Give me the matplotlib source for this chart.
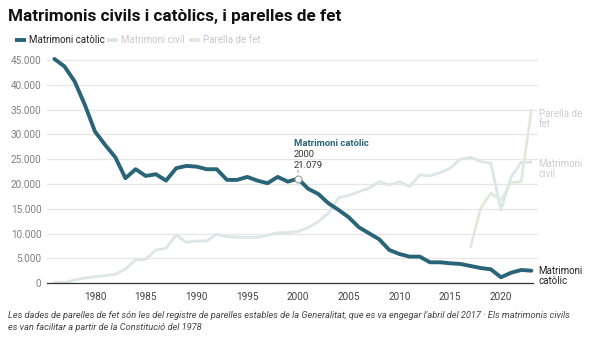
import matplotlib
matplotlib.use("Agg")
import matplotlib.pyplot as plt
from matplotlib.lines import Line2D
from matplotlib.ticker import FuncFormatter

years = list(range(1976, 2024))
catolic = [45200, 43670, 40650, 35950, 30570, 27880, 25400, 21170, 22980, 21630,
           21970, 20690, 23190, 23650, 23510, 22980, 22980, 20830, 20830, 21430,
           20690, 20160, 21430, 20490, 21079, 19050, 18000, 16130, 14780, 13300,
           11290, 10080, 8870, 6710, 5900, 5370, 5370, 4230, 4230, 4030,
           3900, 3490, 3080, 2820, 1210, 2140, 2680, 2540]
civil = [200, 100, 670, 1070, 1340, 1540, 1810, 2880, 4700, 4840,
         6710, 7060, 9740, 8260, 8530, 8530, 9880, 9400, 9270, 9270,
         9270, 9680, 10200, 10200, 10450, 11200, 12420, 14110, 17260, 17660,
         18470, 19150, 20480, 19820, 20480, 19480, 21830, 21630, 22300, 23190,
         25000, 25400, 24520, 24190, 14780, 21370, 24390, 24390]
parella_years = [2017, 2018, 2019, 2020, 2021, 2022, 2023]
parella = [7260, 15120, 18140, 16790, 20280, 20480, 34940]
yticks = list(range(0, 45001, 5000))
xticks = [1980, 1985, 1990, 1995, 2000, 2005, 2010, 2015, 2020]

c_cat = "#2a6478"
c_civ = "#dbe6e9"
c_par = "#dfebda"

fig = plt.figure(figsize=(5.97, 3.37), dpi=100)
W, H = 597, 337
ax = fig.add_axes([47 / W, 1 - 283.3 / H, (538 - 47) / W, 233.3 / H])
ax.set_xlim(1975.27, 2023.65)
ax.set_ylim(0, 47000)

for t in yticks[1:]:
    ax.axhline(t, color="#e6e6e6", lw=0.9, zorder=0)

ax.plot(years, civil, color=c_civ, lw=2.0, zorder=2, solid_capstyle="round")
ax.plot(parella_years, parella, color=c_par, lw=2.0, zorder=2, solid_capstyle="round")
ax.plot(years, catolic, color=c_cat, lw=2.8, zorder=3, solid_capstyle="round", solid_joinstyle="round")

# annotation
i2000 = years.index(2000)
ax.plot([2000], [catolic[i2000]], marker="o", ms=5, mfc="white", mec="#999999", mew=0.8, zorder=4)
ax.annotate("", xy=(2000, catolic[i2000] + 700), xytext=(2000, catolic[i2000] + 2300),
            arrowprops=dict(arrowstyle="-", color="#999999", lw=0.8))
ax.text(1999.6, 28200, "Matrimoni catòlic", color=c_cat, fontsize=6.8, fontweight="bold",
        family="Roboto", va="center", ha="left")
ax.text(1999.6, 26000, "2000", color="#333333", fontsize=6.8, family="Roboto", va="center", ha="left")
ax.text(1999.6, 23800, f"{catolic[i2000]:,}".replace(",", "."), color="#333333", fontsize=6.8,
        family="Roboto", va="center", ha="left")

for s in ["top", "right", "left"]:
    ax.spines[s].set_visible(False)
ax.spines["bottom"].set_color("#333333")
ax.spines["bottom"].set_linewidth(0.9)
ax.spines["bottom"].set_bounds(1975.27, 2023.2)

ax.set_yticks(yticks)
ax.yaxis.set_major_formatter(FuncFormatter(lambda v, p: f"{int(v):,}".replace(",", ".")))
ax.set_xticks(xticks)
ax.tick_params(axis="both", length=0, labelsize=7.2, labelcolor="#808080")
ax.tick_params(axis="y", pad=4)
ax.tick_params(axis="x", pad=6)
for lbl in ax.get_xticklabels() + ax.get_yticklabels():
    lbl.set_family("Roboto")
for lbl in ax.get_xticklabels():
    lbl.set_color("#444444")

# right-end labels
ax.text(2023.7, 33000, "Parella de\nfet", color="#cccccc", fontsize=7, family="Roboto",
        va="center", ha="left", linespacing=1.0)
ax.text(2023.7, 23000, "Matrimoni\ncivil", color="#cccccc", fontsize=7, family="Roboto",
        va="center", ha="left", linespacing=1.0)
ax.text(2023.7, 1400, "Matrimoni\ncatòlic", color="#222222", fontsize=7, family="Roboto",
        va="center", ha="left", linespacing=1.0)

# title
fig.text(8 / W, 1 - 17 / H, "Matrimonis civils i catòlics, i parelles de fet", fontsize=12.3,
         fontweight="bold", family="Roboto", color="#111111", va="center", ha="left")

# legend
ly = 1 - 40 / H
items = [("Matrimoni catòlic", c_cat, "#222222", 15), ("Matrimoni civil", c_civ, "#c8c8c8", 107),
         ("Parella de fet", c_par, "#c8c8c8", 189)]
for label, col, tcol, x0 in items:
    fig.add_artist(Line2D([x0 / W, (x0 + 11) / W], [ly, ly], color=col, lw=2.8,
                          transform=fig.transFigure, solid_capstyle="butt"))
    fig.text((x0 + 14) / W, ly, label, fontsize=7, family="Roboto", color=tcol, va="center", ha="left")

# footnote
fig.text(8 / W, 1 - 316 / H,
         "Les dades de parelles de fet són les del registre de parelles estables de la Generalitat, que es va engegar l'abril del 2017 · Els matrimonis civils",
         fontsize=6.7, style="italic", family="Roboto", color="#444444", va="center", ha="left")
fig.text(8 / W, 1 - 328 / H, "es van facilitar a partir de la Constitució del 1978",
         fontsize=6.7, style="italic", family="Roboto", color="#444444", va="center", ha="left")

fig.savefig("out.png", dpi=100)
